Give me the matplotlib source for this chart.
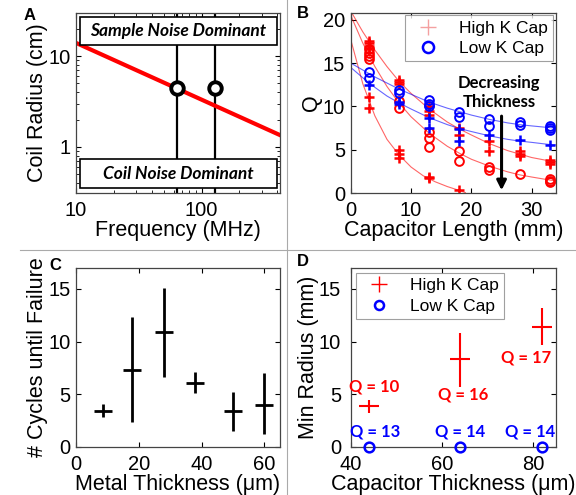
import numpy as np
import matplotlib
matplotlib.use('Agg')
import matplotlib.pyplot as plt
from matplotlib.patches import Rectangle
from matplotlib.lines import Line2D

plt.rcParams['font.family'] = ['Liberation Sans', 'DejaVu Sans']

# ---- panel A data
freq_line = [10, 420]          # MHz
radius_line = [14.0, 1.35]     # cm
freq_marks = [64, 128]
radius_marks = [4.5, 4.5]

# ---- panel B data (capacitor length in mm)
cap_len = [3, 8, 13, 18, 23, 28, 33]
hk_plus = [[17.6, 17.3, 17.0, 16.8, 11.1, 9.8],
           [13.1, 12.8, 12.6, 5.0, 4.5, 4.0],
           [10.0, 9.5, 9.0, 1.9, 1.7],
           [7.5, 6.7, 0.3],
           [6.0, 4.9],
           [4.8, 4.5, 4.3],
           [3.8, 3.6, 3.4]]
hk_circ = [[16.6, 16.2, 15.8, 15.5],
           [10.6, 9.8],
           [7.0, 6.3, 5.3],
           [4.9, 3.7],
           [3.0, 2.7],
           [2.2],
           [1.6, 1.4, 1.3]]
lk_circ = [[14.0, 13.3],
           [11.9, 11.6],
           [10.7, 10.3, 10.0],
           [9.3, 8.8],
           [8.5, 7.7],
           [8.2, 7.9],
           [7.7, 7.5, 7.3]]
lk_plus = [[12.5],
           [10.5, 10.3],
           [8.7, 7.5],
           [7.4, 6.0],
           [6.7],
           [6.1],
           [5.5]]

# fitted trend curves
fit_x_steep = [0, 2, 4, 6, 8, 10, 12, 14, 16, 18, 19]
fit_hk_steep = [17.7, 12.6, 8.9, 6.2, 4.4, 3.0, 2.0, 1.3, 0.75, 0.3, 0.05]
fit_x = [0, 2, 4, 6, 8, 10, 13, 16, 18, 20, 23, 26, 28, 30, 33, 34]
fit_hk_plus = [21.0, 18.6, 16.5, 14.6, 12.9, 11.5, 9.7, 8.2, 7.4, 6.7, 5.7, 4.9, 4.5, 4.1, 3.7, 3.6]
fit_hk_circ = [20.5, 17.3, 14.6, 12.3, 10.4, 8.8, 6.9, 5.4, 4.6, 3.9, 3.1, 2.45, 2.1, 1.85, 1.5, 1.4]
fit_lk_circ = [15.0, 14.2, 13.4, 12.7, 12.0, 11.4, 10.5, 9.8, 9.4, 9.0, 8.5, 8.1, 7.9, 7.75, 7.55, 7.5]
fit_lk_plus = [14.5, 13.3, 12.2, 11.2, 10.4, 9.7, 8.7, 7.9, 7.45, 7.1, 6.6, 6.2, 6.0, 5.85, 5.6, 5.55]

# ---- panel C data
metal_thk = [8.5, 18, 28, 38, 50, 60]
cycles = [3.4, 7.3, 10.9, 6.1, 3.4, 4.0]
cycles_lo = [2.8, 2.4, 6.6, 5.1, 1.5, 1.2]
cycles_hi = [4.1, 12.3, 15.1, 7.1, 5.2, 7.0]

# ---- panel D data
cap_thk = [44, 64, 82]
minrad_hk = [3.9, 8.3, 11.35]
minrad_hk_lo = [3.2, 5.7, 9.7]
minrad_hk_hi = [4.5, 10.8, 13.2]
minrad_lk = [0, 0, 0]
q_hk = ['Q = 10', 'Q = 16', 'Q = 17']
q_hk_pos = [(45.2, 5.7), (64.7, 5.0), (78.4, 8.5)]
q_lk = ['Q = 13', 'Q = 14', 'Q = 14']
q_lk_pos = [(45.3, 1.5), (64.0, 1.5), (79.4, 1.5)]

RED = '#ff0000'
BLUE = '#0000ff'
TXT = ['Lato', 'DejaVu Sans']
LBL = 15.5
TCK = 14.5

fig = plt.figure(figsize=(5.76, 4.95), dpi=100)
axA = fig.add_axes([0.132, 0.610, 0.354, 0.364])
axB = fig.add_axes([0.609, 0.610, 0.356, 0.364])
axC = fig.add_axes([0.132, 0.097, 0.354, 0.362])
axD = fig.add_axes([0.609, 0.097, 0.356, 0.362])

for ax in (axA, axB, axC, axD):
    ax.tick_params(which='both', direction='in', top=True, right=True,
                   labelsize=TCK, pad=4)
    ax.tick_params(axis='x', pad=5.5)
    for s in ax.spines.values():
        s.set_color('#444444')
        s.set_linewidth(0.9)
axD.tick_params(axis='y', pad=7)

# divider lines
fig.add_artist(Line2D([287/576, 287/576], [0, 1], color='#aaaaaa', lw=0.8))
fig.add_artist(Line2D([20/576, 1], [1 - 250/495, 1 - 250/495], color='#aaaaaa', lw=0.8))

# ---------------- A
axA.set_xscale('log')
axA.set_yscale('log')
axA.set_xlim(10, 420)
axA.set_ylim(0.31, 30)
for f in freq_marks:
    axA.axvline(f, color='k', lw=1.6, zorder=1)
axA.plot(freq_line, radius_line, color=RED, lw=3, zorder=2)
axA.plot(freq_marks, radius_marks, 'o', ms=9, mfc='white', mec='k', mew=2.8, zorder=3)
for (y0, y1, label) in [(0.822, 0.978, 'Sample Noise Dominant'),
                        (0.028, 0.189, 'Coil Noise Dominant')]:
    axA.add_patch(Rectangle((0.02, y0), 0.965, y1 - y0, transform=axA.transAxes,
                            facecolor='white', edgecolor='k', lw=1.2, zorder=4))
    axA.text(0.5, (y0 + y1) / 2, label, transform=axA.transAxes, ha='center',
             va='center', fontsize=12.5, fontweight='bold', style='italic',
             family=TXT, zorder=5)
axA.set_xticks([10, 100])
axA.set_xticklabels(['10', '100'])
axA.set_yticks([1, 10])
axA.set_yticklabels(['1', '10'])
axA.set_xlabel('Frequency (MHz)', fontsize=LBL, labelpad=0)
axA.set_ylabel('Coil Radius (cm)', fontsize=LBL, labelpad=0)

# ---------------- B
axB.set_xlim(0, 34)
axB.set_ylim(0, 20.8)
axB.plot(fit_x_steep, fit_hk_steep, color=RED, lw=0.8, alpha=0.6)
axB.plot(fit_x, fit_hk_plus, color=RED, lw=0.8, alpha=0.6)
axB.plot(fit_x, fit_hk_circ, color=RED, lw=0.8, alpha=0.6)
axB.plot(fit_x, fit_lk_circ, color=BLUE, lw=0.8, alpha=0.6)
axB.plot(fit_x, fit_lk_plus, color=BLUE, lw=0.8, alpha=0.6)
for x, a, b, c, d in zip(cap_len, hk_plus, hk_circ, lk_circ, lk_plus):
    axB.plot([x] * len(a), a, '+', color=RED, ms=6.5, mew=1.8)
    axB.plot([x] * len(b), b, 'o', color=RED, mfc='none', ms=6.3, mew=1.4)
    axB.plot([x] * len(c), c, 'o', color=BLUE, mfc='none', ms=6.3, mew=1.4)
    axB.plot([x] * len(d), d, '+', color=BLUE, ms=6.5, mew=1.8)
axB.annotate('', xy=(25, 0), xytext=(25, 9.2),
             arrowprops=dict(arrowstyle='-|>', color='k', lw=2.2, mutation_scale=14))
axB.text(24.6, 11.6, 'Decreasing\nThickness', ha='center', va='center',
         fontsize=12, fontweight='bold', family=TXT, linespacing=1.2)
hB = [Line2D([], [], ls='none', marker='+', color='#f4a0a0', ms=12, mew=1),
      Line2D([], [], ls='none', marker='o', color=BLUE, mfc='none', ms=8, mew=1.8)]
legB = axB.legend(hB, ['High K Cap', 'Low K Cap'], loc='upper right', fontsize=12.5,
                  borderaxespad=0.15, fancybox=False, edgecolor='#888888',
                  handletextpad=0.8, borderpad=0.3, labelspacing=0.3)
legB.get_frame().set_linewidth(0.8)
axB.set_xticks([0, 10, 20, 30])
axB.set_yticks([0, 5, 10, 15, 20])
axB.set_xlabel('Capacitor Length (mm)', fontsize=LBL, labelpad=0)
axB.set_ylabel('Q', fontsize=LBL, labelpad=1)

# ---------------- C
axC.set_xlim(0, 65)
axC.set_ylim(0, 17)
yerrC = [np.array(cycles) - np.array(cycles_lo), np.array(cycles_hi) - np.array(cycles)]
axC.errorbar(metal_thk, cycles, yerr=yerrC, fmt='_', color='k', ms=13, mew=2,
             elinewidth=2, capsize=0)
axC.set_xticks([0, 20, 40, 60])
axC.set_yticks([0, 5, 10, 15])
axC.set_xlabel('Metal Thickness (\u03bcm)', fontsize=LBL, labelpad=0)
axC.set_ylabel('# Cycles until Failure', fontsize=LBL, labelpad=0)

# ---------------- D
axD.set_xlim(40, 85)
axD.set_ylim(0, 17)
yerrD = [np.array(minrad_hk) - np.array(minrad_hk_lo), np.array(minrad_hk_hi) - np.array(minrad_hk)]
axD.errorbar(cap_thk, minrad_hk, yerr=yerrD, fmt='_', color=RED, ms=14, mew=1.5,
             elinewidth=1.5, capsize=0)
axD.plot(cap_thk, minrad_lk, 'o', color=BLUE, mfc='none', ms=7, mew=1.8, clip_on=False, zorder=5)
for s, (x, y) in zip(q_hk, q_hk_pos):
    axD.text(x, y, s, color=RED, ha='center', va='center', fontsize=12,
             fontweight='bold', family=TXT)
for s, (x, y) in zip(q_lk, q_lk_pos):
    axD.text(x, y, s, color=BLUE, ha='center', va='center', fontsize=12,
             fontweight='bold', family=TXT)
hD = [Line2D([], [], ls='none', marker='+', color=RED, ms=12, mew=1),
      Line2D([], [], ls='none', marker='o', color=BLUE, mfc='none', ms=6.5, mew=1.8)]
legD = axD.legend(hD, ['High K Cap', 'Low K Cap'], loc='upper left', fontsize=12.5,
                  borderaxespad=0.3, fancybox=False, edgecolor='#888888',
                  handletextpad=0.8, borderpad=0.3, labelspacing=0.3)
legD.get_frame().set_linewidth(0.8)
axD.set_xticks([40, 60, 80])
axD.set_yticks([0, 5, 10, 15])
axD.set_xlabel('Capacitor Thickness (\u03bcm)', fontsize=LBL, labelpad=0)
axD.set_ylabel('Min Radius (mm)', fontsize=LBL, labelpad=0)

# panel letters
fig.text(30/576, 1 - 15/495, 'A', fontsize=12, fontweight='bold', ha='center', va='center')
fig.text(303/576, 1 - 14/495, 'B', fontsize=12, fontweight='bold', ha='center', va='center')
fig.text(55/576, 1 - 266/495, 'C', fontsize=12, fontweight='bold', ha='center', va='center')
fig.text(303/576, 1 - 262/495, 'D', fontsize=12, fontweight='bold', ha='center', va='center')

fig.savefig('out.png', dpi=100)
